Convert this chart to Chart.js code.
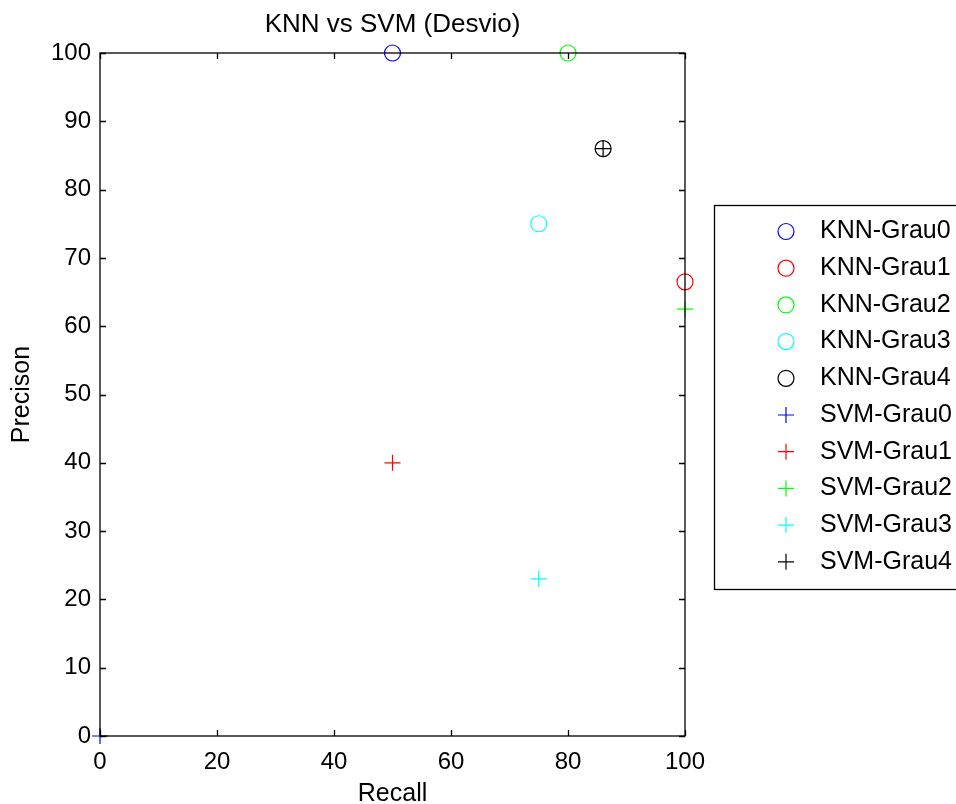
<!DOCTYPE html>
<html>
<head>
<meta charset="utf-8">
<script src="https://cdn.jsdelivr.net/npm/chart.js@4.4.0/dist/chart.umd.min.js"></script>
<style>
  html, body { margin: 0; padding: 0; background: #fff; }
  #wrap { width: 956px; height: 804px; position: relative; }
</style>
</head>
<body>
<div id="wrap"><canvas id="chart"></canvas></div>
<script>
// Series values (Recall, Precison)
const knnLabels = ["KNN-Grau0", "KNN-Grau1", "KNN-Grau2", "KNN-Grau3", "KNN-Grau4"];
const knnRecall = [50, 100, 80, 75, 86];
const knnPrecision = [100, 66.5, 100, 75, 86];

const svmLabels = ["SVM-Grau0", "SVM-Grau1", "SVM-Grau2", "SVM-Grau3", "SVM-Grau4"];
const svmRecall = [0, 50, 100, 75, 86];
const svmPrecision = [0, 40, 62.5, 23, 86];

const gradeColors = ["#0000ff", "#ff0000", "#00ff00", "#00ffff", "#000000"];

const xTicks = [0, 20, 40, 60, 80, 100];
const yTicks = [0, 10, 20, 30, 40, 50, 60, 70, 80, 90, 100];

const FONT = "'Liberation Sans', Arial, sans-serif";

// Build datasets
const datasets = [];
knnLabels.forEach((label, i) => {
  datasets.push({
    label: label,
    data: [{ x: knnRecall[i], y: knnPrecision[i] }],
    pointStyle: "circle",
    pointRadius: 8,
    pointBorderWidth: 1.2,
    borderColor: gradeColors[i],
    backgroundColor: "rgba(0,0,0,0)",
    showLine: false,
    clip: false,
  });
});
svmLabels.forEach((label, i) => {
  datasets.push({
    label: label,
    data: [{ x: svmRecall[i], y: svmPrecision[i] }],
    pointStyle: "cross",
    pointRadius: 8,
    pointBorderWidth: 1.2,
    borderColor: gradeColors[i],
    backgroundColor: gradeColors[i],
    showLine: false,
    clip: false,
  });
});

// Box, inward ticks, titles and legend (MATLAB style)
const matlabFrame = {
  id: "matlabFrame",
  afterDatasetsDraw(chart) {
    const { ctx, chartArea: a, scales } = chart;
    ctx.save();
    ctx.strokeStyle = "#000";
    ctx.lineWidth = 1.3;
    ctx.strokeRect(a.left, a.top, a.right - a.left, a.bottom - a.top);

    const tl = 6;
    ctx.beginPath();
    xTicks.forEach((v) => {
      const px = Math.round(scales.x.getPixelForValue(v)) + 0.5;
      ctx.moveTo(px, a.bottom); ctx.lineTo(px, a.bottom - tl);
      ctx.moveTo(px, a.top); ctx.lineTo(px, a.top + tl);
    });
    yTicks.forEach((v) => {
      const py = Math.round(scales.y.getPixelForValue(v)) + 0.5;
      ctx.moveTo(a.left, py); ctx.lineTo(a.left + tl, py);
      ctx.moveTo(a.right, py); ctx.lineTo(a.right - tl, py);
    });
    ctx.stroke();

    // titles
    ctx.fillStyle = "#000";
    ctx.textAlign = "center";
    ctx.textBaseline = "middle";
    ctx.font = "26px " + FONT;
    ctx.fillText("KNN vs SVM (Desvio)", (a.left + a.right) / 2, 25);
    ctx.font = "25px " + FONT;
    ctx.fillText("Recall", (a.left + a.right) / 2, 794);
    ctx.save();
    ctx.translate(22, (a.top + a.bottom) / 2);
    ctx.rotate(-Math.PI / 2);
    ctx.fillText("Precison", 0, 0);
    ctx.restore();

    // legend
    const lx = 714.5, ly = 205.5, lw = 260, lh = 384;
    ctx.fillStyle = "#fff";
    ctx.fillRect(lx, ly, lw, lh);
    ctx.lineWidth = 1.3;
    ctx.strokeStyle = "#000";
    ctx.strokeRect(lx, ly, lw, lh);
    ctx.textAlign = "left";
    ctx.font = "25px " + FONT;
    chart.data.datasets.forEach((ds, i) => {
      const cy = 231.5 + i * 36.7;
      ctx.strokeStyle = ds.borderColor;
      ctx.fillStyle = "rgba(0,0,0,0)";
      ctx.lineWidth = 1.2;
      Chart.helpers.drawPoint(ctx, { pointStyle: ds.pointStyle, radius: 8, rotation: 0, borderWidth: 1.2 }, 786, cy);
      ctx.fillStyle = "#000";
      ctx.fillText(ds.label, 820, cy);
    });
    ctx.restore();
  },
};

new Chart(document.getElementById("chart"), {
  type: "scatter",
  data: { datasets },
  options: {
    responsive: true,
    maintainAspectRatio: false,
    animation: false,
    layout: { padding: { top: 53, right: 271, left: 0, bottom: 0 } },
    plugins: {
      legend: { display: false },
      title: { display: false },
      tooltip: { enabled: false },
    },
    scales: {
      x: {
        type: "linear",
        min: 0,
        max: 100,
        afterFit: (s) => { s.height = 68; },
        afterBuildTicks: (s) => { s.ticks = xTicks.map((v) => ({ value: v })); },
        grid: { display: false, drawTicks: false },
        border: { display: false },
        ticks: { color: "#000", padding: 12, font: { family: FONT, size: 24 }, maxRotation: 0 },
      },
      y: {
        type: "linear",
        min: 0,
        max: 100,
        afterFit: (s) => { s.width = 100; },
        afterBuildTicks: (s) => { s.ticks = yTicks.map((v) => ({ value: v })); },
        grid: { display: false, drawTicks: false },
        border: { display: false },
        ticks: { color: "#000", padding: 9, font: { family: FONT, size: 24 } },
      },
    },
  },
  plugins: [matlabFrame],
});
</script>
</body>
</html>
